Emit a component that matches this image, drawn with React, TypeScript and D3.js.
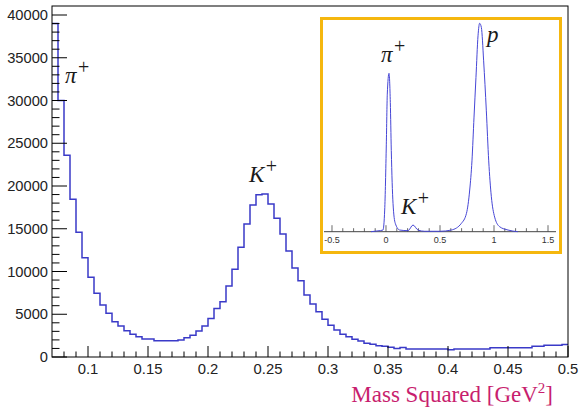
import React from "react";
import * as d3 from "d3";

// ---- main histogram data (bin width 0.005 GeV^2 from 0.07 to 0.5) ----
const binStart = 0.07;
const binWidth = 0.005;
const counts: number[] = [
  39000, 30000, 23600, 18450, 14590, 11620, 9320, 7450, 6080, 5110,
  4130, 3630, 3080, 2650, 2380, 2100, 2100, 1910, 1910, 1910,
  1910, 1990, 2260, 2540, 3040, 3630, 4500, 5670, 6470, 8310,
  10260, 12830, 15560, 17780, 18990, 19070, 17900, 16230, 14390, 12400,
  10410, 8930, 7250, 6200, 5300, 4410, 3710, 3160, 2650, 2380,
  2070, 1870, 1600, 1490, 1320, 1250, 1150, 1000, 1100, 950,
  950, 950, 950, 950, 950, 950, 850, 950, 950, 950,
  950, 950, 950, 1090, 1090, 1090, 1090, 1090, 1090, 1090,
  1250, 1250, 1380, 1380, 1380, 1450,
];

const yTickValues = [0, 5000, 10000, 15000, 20000, 25000, 30000, 35000, 40000];
const xTickValues = [0.1, 0.15, 0.2, 0.25, 0.3, 0.35, 0.4, 0.45, 0.5];
const xTickLabels = ["0.1", "0.15", "0.2", "0.25", "0.3", "0.35", "0.4", "0.45", "0.5"];

// ---- inset: full mass-squared spectrum (relative height, %) ----
const insetM2: number[] = [
  -0.139, -0.074, -0.028, -0.012, 0.003, 0.012, 0.028, 0.04, 0.049, 0.065,
  0.086, 0.127, 0.204, 0.25, 0.296, 0.358, 0.5, 0.605, 0.698, 0.745,
  0.775, 0.796, 0.815, 0.833, 0.852, 0.867, 0.883, 0.904, 0.929, 0.951,
  0.975, 1.006, 1.052, 1.13, 1.22,
];
const insetH: number[] = [
  0, 0.4, 0.8, 10.4, 42, 66, 76, 62, 39, 13.6,
  4, 0.8, 0.5, 3.2, 0.8, 0.2, 0.2, 0.8, 4, 8.8,
  20, 34, 55, 74, 94, 100, 98, 82, 58, 34,
  17, 7, 2.4, 0.8, 0,
];
const insetTickValues = [-0.5, 0, 0.5, 1, 1.5];
const insetTickLabels = ["-0.5", "0", "0.5", "1", "1.5"];

export default function App() {
  const W = 581, H = 409;
  const L = 52, R = 568, T = 6, B = 357;
  const x = d3.scaleLinear().domain([0.07, 0.5]).range([L, R]);
  const y = d3.scaleLinear().domain([0, 40000]).range([B, 15]);

  const pts: [number, number][] = counts.map((c, i) => [binStart + i * binWidth, c]);
  pts.push([binStart + counts.length * binWidth, counts[counts.length - 1]]);
  const histPath = d3
    .line<[number, number]>()
    .x((d) => x(d[0]))
    .y((d) => y(d[1]))
    .curve(d3.curveStepAfter)(pts) as string;

  const yMinor = d3.range(0, 40001, 1000);
  const xMinor = d3.range(0.08, 0.5001, 0.01);

  // inset
  const ix = d3.scaleLinear().domain([-0.574, 1.574]).range([324, 556]);
  const iy = d3.scaleLinear().domain([0, 100]).range([231.7, 23.3]);
  const insetPath = d3
    .line<number>()
    .x((_, i) => ix(insetM2[i]))
    .y((d) => iy(d))
    .curve(d3.curveMonotoneX)(insetH) as string;
  const insetMinor = d3.range(-0.5, 1.5001, 0.1);

  const sans = "'Liberation Sans', Arial, Helvetica, sans-serif";
  const serif = "'Liberation Serif', 'Times New Roman', serif";

  const Label = ({ lx, ly, sym }: { lx: number; ly: number; sym: string }) => (
    <text x={lx} y={ly} fontFamily={serif} fontSize={23} fill="#1a1a1a">
      <tspan fontStyle="italic">{sym}</tspan>
      <tspan fontSize={20} dy={-9} dx={1.5}>+</tspan>
    </text>
  );

  return (
    <svg width={W} height={H} style={{ position: "absolute", left: 0, top: 0, background: "#fff" }}>
      <rect x={0} y={0} width={W} height={H} fill="#fff" />
      <defs>
        <clipPath id="plotclip">
          <rect x={L} y={T} width={R - L} height={B - T} />
        </clipPath>
      </defs>

      {/* histogram */}
      <path d={histPath} fill="none" stroke="#3a3ac8" strokeWidth={1.5} clipPath="url(#plotclip)" />

      {/* frame */}
      <rect x={L} y={T} width={R - L} height={B - T} fill="none" stroke="#000" strokeWidth={1} />

      {/* y ticks */}
      {yMinor.map((v) => (
        <line key={"ym" + v} x1={L} x2={L + (v % 5000 === 0 ? 15 : 7.5)} y1={y(v)} y2={y(v)} stroke="#000" strokeWidth={1} />
      ))}
      {yTickValues.map((v) => (
        <text key={"yl" + v} x={48} y={y(v)} dy="0.35em" textAnchor="end" fontFamily={sans} fontSize={14.7} fill="#222">
          {v}
        </text>
      ))}

      {/* x ticks */}
      {xMinor.map((v) => {
        const major = Math.abs(Math.round(v * 20) - v * 20) < 1e-6;
        return (
          <line key={"xm" + v.toFixed(3)} x1={x(v)} x2={x(v)} y1={B} y2={B - (major ? 11 : 5.5)} stroke="#000" strokeWidth={1} />
        );
      })}
      {xTickValues.map((v, i) => (
        <text key={"xl" + v} x={x(v)} y={373.5} textAnchor="middle" fontFamily={sans} fontSize={14.8} fill="#222">
          {xTickLabels[i]}
        </text>
      ))}

      {/* axis title */}
      <text x={553} y={401.5} textAnchor="end" fontFamily={serif} fontSize={23} fill="#c81e6e">
        Mass Squared [GeV<tspan fontSize={15} dy={-9}>2</tspan><tspan dy={9}>]</tspan>
      </text>

      {/* particle labels */}
      <Label lx={65} ly={83} sym="π" />
      <Label lx={249} ly={182} sym="K" />

      {/* inset */}
      <rect x={321.5} y={18.5} width={239} height={234} fill="#fff" stroke="#f5b70e" strokeWidth={3} />
      <line x1={324} x2={556} y1={231.7} y2={231.7} stroke="#444" strokeWidth={1} />
      {insetMinor.map((v) => {
        const major = Math.abs(Math.round(v * 2) - v * 2) < 1e-6;
        return (
          <line key={"im" + v.toFixed(2)} x1={ix(v)} x2={ix(v)} y1={231.7} y2={231.7 - (major ? 6.5 : 3.5)} stroke="#444" strokeWidth={0.8} />
        );
      })}
      {insetTickValues.map((v, i) => (
        <text key={"il" + v} x={ix(v)} y={243} textAnchor="middle" fontFamily={sans} fontSize={9} fill="#333">
          {insetTickLabels[i]}
        </text>
      ))}
      <path d={insetPath} fill="none" stroke="#4646d6" strokeWidth={1} />
      <Label lx={381} ly={62} sym="π" />
      <Label lx={401} ly={214} sym="K" />
      <text x={487} y={42} fontFamily={serif} fontSize={23} fontStyle="italic" fill="#1a1a1a">
        p
      </text>
    </svg>
  );
}
